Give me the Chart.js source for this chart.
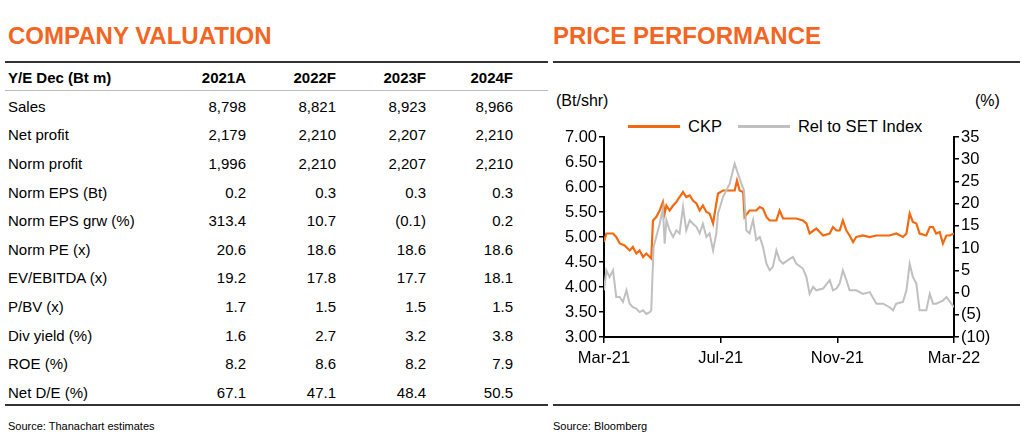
<!DOCTYPE html>
<html>
<head>
<meta charset="utf-8">
<script src="https://cdn.jsdelivr.net/npm/chart.js@4/dist/chart.umd.min.js"></script>
<style>
  body { margin:0; width:1024px; height:435px; background:#fff; font-family:"Liberation Sans", Arial, sans-serif; position:relative; overflow:hidden; }
  .title { position:absolute; top:22px; color:#f26522; font-weight:bold; font-size:24px; }
  .hline { position:absolute; height:0; }
  table { position:absolute; left:8px; top:63px; border-collapse:collapse; font-size:15px; color:#000; }
  td { height:28.6px; padding:0; text-align:right; }
  td:first-child { text-align:left; width:168px; }
  th { height:29px; padding:0; text-align:right; font-weight:bold; }
  th:first-child { text-align:left; }
  .src { position:absolute; top:420px; font-size:11px; color:#000; }
  .lbl { position:absolute; top:92px; font-size:16px; }
  #legend { position:absolute; top:117px; left:628px; font-size:16.5px; display:flex; align-items:center; }
  #legend span.sw { display:inline-block; width:52px; height:3px; margin-right:8px; }
  #wrap { position:absolute; left:552px; top:125px; width:460px; height:265px; }
</style>
</head>
<body>
<div class="title" style="left:8px">COMPANY VALUATION</div>
<div class="title" style="left:553px">PRICE PERFORMANCE</div>
<div class="hline" style="left:5px;width:543px;top:61px;border-top:2px solid #333"></div>
<div class="hline" style="left:553px;width:467px;top:61px;border-top:2px solid #333"></div>
<div class="hline" style="left:5px;width:543px;top:90px;border-top:1px solid #bbb"></div>
<div class="hline" style="left:5px;width:543px;top:404px;border-top:2px solid #333"></div>
<div class="hline" style="left:553px;width:467px;top:404px;border-top:2px solid #333"></div>
<table id="tbl"></table>
<div class="src" style="left:8px">Source: Thanachart estimates</div>
<div class="src" style="left:553px">Source: Bloomberg</div>
<div class="lbl" style="left:556px">(Bt/shr)</div>
<div class="lbl" style="left:975px">(%)</div>
<div id="legend"><span class="sw" style="background:#f26a10"></span>CKP<span class="sw" style="background:#c0c0c0;margin-left:16px"></span>Rel to SET Index</div>
<div id="wrap"><canvas id="c"></canvas></div>
<script>
var YEARS = ['2021A', '2022F', '2023F', '2024F'];
var ROW_LABELS = ['Sales', 'Net profit', 'Norm profit', 'Norm EPS (Bt)', 'Norm EPS grw (%)', 'Norm PE (x)',
  'EV/EBITDA (x)', 'P/BV (x)', 'Div yield (%)', 'ROE (%)', 'Net D/E (%)'];
var ROW_VALUES = [
  ['8,798', '8,821', '8,923', '8,966'],
  ['2,179', '2,210', '2,207', '2,210'],
  ['1,996', '2,210', '2,207', '2,210'],
  ['0.2', '0.3', '0.3', '0.3'],
  ['313.4', '10.7', '(0.1)', '0.2'],
  ['20.6', '18.6', '18.6', '18.6'],
  ['19.2', '17.8', '17.7', '18.1'],
  ['1.7', '1.5', '1.5', '1.5'],
  ['1.6', '2.7', '3.2', '3.8'],
  ['8.2', '8.6', '8.2', '7.9'],
  ['67.1', '47.1', '48.4', '50.5']
];
var COL_W = [70, 90, 90, 87];

// months since Mar-21
var ckpMonths = [0,0.08,0.31,0.42,0.54,0.71,0.88,0.99,1.11,1.22,1.34,1.45,1.57,1.62,1.68,1.79,1.91,2.02,2.08,2.14,
  2.25,2.37,2.48,2.59,2.71,2.82,2.94,3.05,3.17,3.28,3.39,3.51,3.62,3.74,3.85,3.91,4.08,4.31,4.48,4.56,
  4.65,4.77,4.82,4.99,5.22,5.34,5.45,5.57,5.68,5.91,6.02,6.14,6.37,6.59,6.82,6.94,7.05,7.28,7.51,7.74,
  7.85,7.97,8.08,8.19,8.31,8.42,8.54,8.65,8.88,9.11,9.34,9.57,9.79,10.02,10.25,10.37,10.48,10.59,10.71,10.82,
  11.05,11.17,11.28,11.39,11.51,11.62,11.74,11.85,12];
var ckpPrice = [4.90,5.07,5.07,5.00,4.87,4.83,4.73,4.80,4.67,4.73,4.60,4.67,4.60,4.57,5.33,5.40,5.53,5.70,5.47,5.63,
  5.53,5.63,5.70,5.80,5.90,5.80,5.83,5.73,5.67,5.53,5.63,5.50,5.47,5.27,5.67,5.87,5.93,5.93,5.93,6.13,
  5.93,5.90,5.40,5.53,5.53,5.60,5.57,5.40,5.33,5.33,5.53,5.37,5.37,5.37,5.33,5.27,5.07,5.17,5.03,5.07,
  5.20,5.13,5.13,5.33,5.13,5.03,4.90,5.00,5.03,5.00,5.03,5.03,5.03,5.07,5.00,5.07,5.47,5.30,5.27,5.07,
  5.03,5.20,5.20,5.07,5.10,4.87,5.03,5.03,5.07];
var relMonths = [0,0.08,0.19,0.31,0.42,0.54,0.65,0.77,0.88,0.99,1.11,1.22,1.34,1.45,1.57,1.62,1.70,1.79,1.91,2.02,
  2.08,2.14,2.25,2.37,2.48,2.59,2.71,2.82,2.94,3.05,3.17,3.28,3.39,3.51,3.62,3.74,3.85,3.91,4.08,4.31,
  4.48,4.59,4.71,4.80,4.88,4.99,5.11,5.22,5.34,5.45,5.57,5.68,5.79,5.91,6.02,6.14,6.37,6.48,6.59,6.82,
  6.94,7.05,7.17,7.28,7.51,7.74,7.85,7.97,8.08,8.19,8.31,8.42,8.65,8.88,9.11,9.34,9.57,9.79,9.91,10.02,
  10.25,10.37,10.48,10.59,10.71,10.82,11.05,11.17,11.28,11.39,11.62,11.74,12];
var relSet = [0.5,5,3.5,5,-1,-1,-2.1,0.5,-2.5,-3.3,-3.6,-4.4,-4,-4.8,-4.4,-4,10.3,12.5,15.5,18.9,
  11,16.3,14,12.5,14,13.3,19.3,14,16.3,15.5,14.8,13.3,15.5,12.5,13.3,9.5,13.3,17.8,21.5,24.5,
  29,26.8,24.5,23,14,13.3,16.3,11.8,12.5,10.3,6.5,5,5.8,9.5,7.3,6.5,7.6,8,6.5,5.4,
  3.5,-0.3,1.3,0.5,0.9,2.8,0.5,0.9,2,5,2.8,0.5,0.5,-0.3,0.1,-2.5,-2.5,-3.3,-4,-2.5,
  -2.1,0.5,6.5,3.5,2,-4,-4,-0.3,-2.5,-2.5,-1.8,-1,-3.3];
var X_TICKS = { 0: 'Mar-21', 4: 'Jul-21', 8: 'Nov-21', 12: 'Mar-22' };

/* table */
var html = '<tr><th>Y/E Dec (Bt m)</th>';
YEARS.forEach(function (y, i) { html += '<th style="width:' + COL_W[i] + 'px">' + y + '</th>'; });
html += '</tr>';
ROW_LABELS.forEach(function (l, r) {
  html += '<tr><td>' + l + '</td>';
  ROW_VALUES[r].forEach(function (v) { html += '<td>' + v + '</td>'; });
  html += '</tr>';
});
document.getElementById('tbl').innerHTML = html;

/* chart */
function pts(xs, ys) { return xs.map(function (x, i) { return { x: x, y: ys[i] }; }); }
var FONT = { family: '"Liberation Sans", Arial, sans-serif', size: 16.5 };

new Chart(document.getElementById('c'), {
  type: 'line',
  data: {
    datasets: [
      { data: pts(relMonths, relSet), yAxisID: 'y2', borderColor: '#c0c0c0', borderWidth: 2, pointRadius: 0, tension: 0 },
      { data: pts(ckpMonths, ckpPrice), yAxisID: 'y', borderColor: '#f26a10', borderWidth: 2.2, pointRadius: 0, tension: 0 }
    ]
  },
  options: {
    animation: false, responsive: true, maintainAspectRatio: false,
    layout: { padding: { top: 12, left: 0, right: 0, bottom: 0 } },
    plugins: { legend: { display: false }, tooltip: { enabled: false } },
    scales: {
      x: {
        type: 'linear', min: 0, max: 12,
        afterFit: function (s) { s.height = 53; },
        afterBuildTicks: function (s) { s.ticks = [0, 4, 8, 12].map(function (v) { return { value: v }; }); },
        ticks: { color: '#000', font: FONT, maxRotation: 0, padding: 6, autoSkip: false, callback: function (v) { return X_TICKS[v]; } },
        grid: { drawOnChartArea: false, color: '#000', tickLength: 6, lineWidth: 1.5 },
        border: { color: '#000', width: 2 }
      },
      y: {
        position: 'left', min: 3, max: 7,
        afterFit: function (s) { s.width = 52; },
        ticks: { stepSize: 0.5, autoSkip: false, color: '#000', font: FONT, padding: 2, callback: function (v) { return v.toFixed(2); } },
        grid: { drawOnChartArea: false, color: '#000', tickLength: 5, lineWidth: 1.5 },
        border: { color: '#000', width: 2 }
      },
      y2: {
        position: 'right', min: -10, max: 35,
        afterFit: function (s) { s.width = 58; },
        ticks: { stepSize: 5, autoSkip: false, color: '#000', font: FONT, padding: 2, callback: function (v) { return v < 0 ? '(' + (-v) + ')' : v; } },
        grid: { drawOnChartArea: false, color: '#000', tickLength: 5, lineWidth: 1.5 },
        border: { color: '#000', width: 2 }
      }
    }
  }
});
</script>
</body>
</html>
